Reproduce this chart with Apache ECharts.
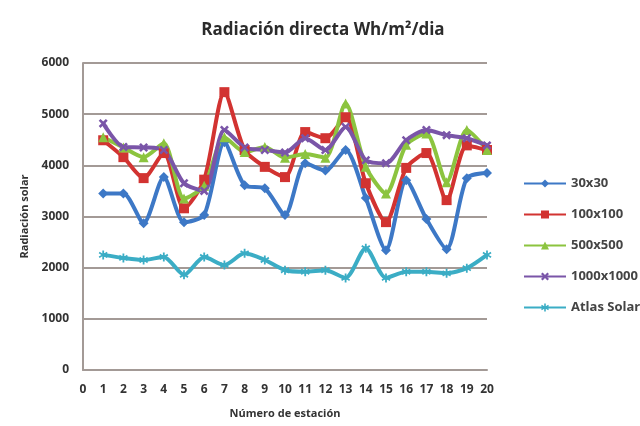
<!DOCTYPE html>
<html>
<head>
<meta charset="utf-8">
<script src="https://cdn.jsdelivr.net/npm/echarts@6/dist/echarts.min.js"></script>
<style>
  html, body { margin: 0; padding: 0; background: #fff; }
  #chart { width: 640px; height: 426px; }
</style>
</head>
<body>
<div id="chart"></div>
<script>
// station numbers on the x axis (0 has no data)
var stations = ['0','1','2','3','4','5','6','7','8','9','10','11','12','13','14','15','16','17','18','19','20'];

// values for stations 1..20
var s30x30 = [3450, 3450, 2870, 3770, 2890, 3030, 4450, 3610, 3550, 3030, 4040, 3900, 4300, 3360, 2340, 3710, 2950, 2360, 3750, 3850];
var s100x100 = [4490, 4160, 3750, 4240, 3160, 3720, 5430, 4300, 3970, 3770, 4650, 4530, 4940, 3650, 2890, 3950, 4240, 3320, 4390, 4300];
var s500x500 = [4550, 4350, 4160, 4430, 3350, 3600, 4550, 4260, 4360, 4150, 4220, 4150, 5210, 3970, 3450, 4400, 4620, 3670, 4690, 4300];
var s1000x1000 = [4820, 4360, 4350, 4300, 3650, 3500, 4690, 4350, 4300, 4250, 4530, 4300, 4750, 4100, 4040, 4490, 4690, 4590, 4530, 4390];
var atlasSolar = [2250, 2190, 2150, 2210, 1860, 2210, 2050, 2280, 2150, 1950, 1920, 1950, 1800, 2380, 1800, 1920, 1920, 1890, 1990, 2250];

var xShape = 'path://M0,2L2,0L5,3L8,0L10,2L7,5L10,8L8,10L5,7L2,10L0,8L3,5Z';
var starShape = 'path://M4,0L6,0L6,3.5L9,1.5L10,3.3L7,5L10,6.7L9,8.5L6,6.5L6,10L4,10L4,6.5L1,8.5L0,6.7L3,5L0,3.3L1,1.5L4,3.5Z';

function makeSeries(name, values, color, symbol, size) {
  return {
    name: name,
    type: 'line',
    smooth: 0.25,
    data: [null].concat(values),
    symbol: symbol,
    symbolSize: size,
    lineStyle: { width: 4, color: color },
    itemStyle: { color: color },
    emphasis: { disabled: true }
  };
}

var chart = echarts.init(document.getElementById('chart'));
chart.setOption({
  animation: false,
  backgroundColor: '#fff',
  title: {
    text: 'Radiación directa Wh/m²/dia',
    left: 318,
    textAlign: 'center',
    top: 17,
    textStyle: { fontFamily: 'Open Sans', fontWeight: 'bold', fontSize: 17, color: '#2b2b2b' }
  },
  legend: {
    orient: 'vertical',
    left: 518,
    top: 172,
    itemWidth: 42,
    itemHeight: 10,
    itemGap: 18,
    textStyle: { fontFamily: 'Open Sans', fontWeight: 'bold', fontSize: 13, color: '#444' },
    data: ['30x30', '100x100', '500x500', '1000x1000', 'Atlas Solar']
  },
  grid: { left: 83, right: 153, top: 63, bottom: 56 },
  xAxis: {
    type: 'category',
    data: stations,
    boundaryGap: false,
    name: 'Número de estación',
    nameLocation: 'middle',
    nameGap: 38,
    nameTextStyle: { fontFamily: 'Open Sans', fontWeight: 'bold', fontSize: 11, color: '#333' },
    axisLine: { lineStyle: { color: '#a39a96', width: 2 } },
    axisTick: { show: false },
    axisLabel: { interval: 0, margin: 14, fontFamily: 'Open Sans', fontWeight: 'bold', fontSize: 12, color: '#333' }
  },
  yAxis: {
    type: 'value',
    min: 0,
    max: 6000,
    interval: 1000,
    name: 'Radiación solar',
    nameLocation: 'middle',
    nameGap: 52,
    nameTextStyle: { fontFamily: 'Open Sans', fontWeight: 'bold', fontSize: 11, color: '#333' },
    axisLine: { show: true, lineStyle: { color: '#a39a96', width: 2 } },
    axisTick: { show: false },
    axisLabel: {
      margin: 14, fontFamily: 'Open Sans', fontWeight: 'bold', fontSize: 12, color: '#333',
      formatter: function (v) { return String(v); }
    },
    splitLine: { lineStyle: { color: '#a39a96', width: 2 } }
  },
  series: [
    makeSeries('30x30', s30x30, '#3d78c6', 'diamond', 10),
    makeSeries('100x100', s100x100, '#d23331', 'rect', 10),
    makeSeries('500x500', s500x500, '#8cc43f', 'triangle', 10),
    makeSeries('1000x1000', s1000x1000, '#7a55a8', xShape, 9),
    makeSeries('Atlas Solar', atlasSolar, '#3badc5', starShape, 9)
  ]
});
</script>
</body>
</html>
